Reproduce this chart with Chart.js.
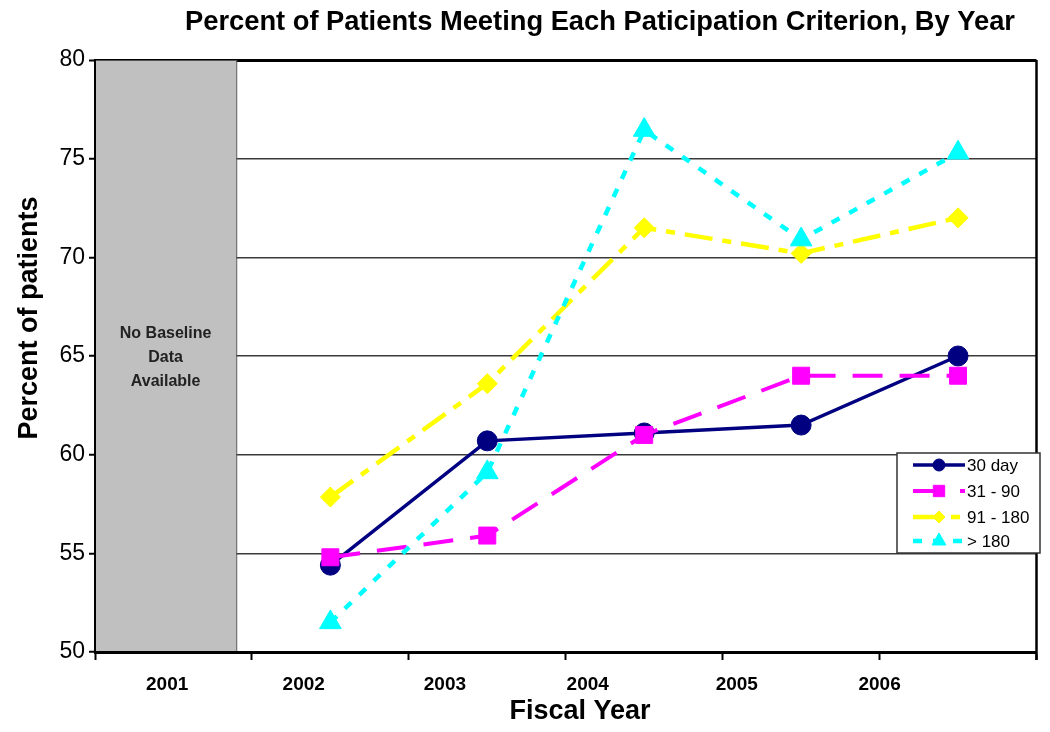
<!DOCTYPE html>
<html>
<head>
<meta charset="utf-8">
<script src="https://cdn.jsdelivr.net/npm/chart.js@4/dist/chart.umd.min.js"></script>
<style>
  html, body { margin: 0; padding: 0; background: #fff; }
  #wrap { width: 1050px; height: 732px; }
</style>
</head>
<body>
<div id="wrap"><canvas id="chart" width="1050" height="732"></canvas></div>
<script>
// Data
const years = ['2001', '2002', '2003', '2004', '2005', '2006'];
const dataYears = ['2002', '2003', '2004', '2005', '2006'];
const day30 = [54.4, 60.7, 61.1, 61.5, 65.0];
const day31to90 = [54.8, 55.9, 61.0, 64.0, 64.0];
const day91to180 = [57.85, 63.6, 71.5, 70.2, 72.0];
const over180 = [51.5, 59.1, 76.45, 70.9, 75.3];
const seriesNames = ['30 day', '31 - 90', '91 - 180', '> 180'];
const yTicks = [50, 55, 60, 65, 70, 75, 80];
// where each year label sits along the axis (category units, the source drifts them left)
const yearLabelPos = [0.46, 1.33, 2.23, 3.14, 4.09, 5.0];

const FONT = "'Liberation Sans', Arial, sans-serif";

const toPoints = vals => vals.map((v, i) => ({ x: years.indexOf(dataYears[i]) + 0.5, y: v }));

const datasets = [
  { label: seriesNames[0], data: toPoints(day30), borderColor: '#000080', backgroundColor: '#000080',
    borderWidth: 3.5, borderDash: [], pointStyle: 'circle', pointRadius: 10, order: 4, legendRadius: 6 },
  { label: seriesNames[1], data: toPoints(day31to90), borderColor: '#ff00ff', backgroundColor: '#ff00ff',
    borderWidth: 4, borderDash: [30, 17], pointStyle: 'rect', pointRadius: 12, order: 3, legendRadius: 8 },
  { label: seriesNames[2], data: toPoints(day91to180), borderColor: '#ffff00', backgroundColor: '#ffff00',
    borderWidth: 4.5, borderDash: [28, 10, 9, 10], pointStyle: 'rectRot', pointRadius: 10, order: 2, legendRadius: 6 },
  { label: seriesNames[3], data: toPoints(over180), borderColor: '#00ffff', backgroundColor: '#00ffff',
    borderWidth: 4.5, borderDash: [9, 11], pointStyle: 'triangle', pointRadius: 12.5, order: 1, legendRadius: 8 }
];
datasets.forEach(d => {
  d.pointBorderWidth = 1;
  d.pointHoverRadius = d.pointRadius;
  d.tension = 0;
  d.fill = false;
});

const isInt = v => Math.abs(v - Math.round(v)) < 1e-6;

// gray "no baseline" panel, title, axis titles, frame and legend
const decor = {
  id: 'decor',
  beforeDatasetsDraw(chart) {
    const { ctx, chartArea: a, scales: { x } } = chart;
    const x0 = x.getPixelForValue(0), x1 = x.getPixelForValue(0.9);
    ctx.save();
    ctx.fillStyle = '#c0c0c0';
    ctx.fillRect(x0, a.top, x1 - x0, a.bottom - a.top);
    ctx.strokeStyle = '#555';
    ctx.lineWidth = 1;
    ctx.strokeRect(x0 + 0.5, a.top + 0.5, x1 - x0, a.bottom - a.top);
    ctx.fillStyle = '#222';
    ctx.font = 'bold 16px ' + FONT;
    ctx.textAlign = 'center';
    ctx.textBaseline = 'middle';
    const cx = (x0 + x1) / 2;
    ['No Baseline', 'Data', 'Available'].forEach((t, i) => ctx.fillText(t, cx, 334 + i * 24));
    ctx.restore();
  },
  afterDraw(chart) {
    const { ctx, chartArea: a } = chart;
    ctx.save();
    // right frame line
    ctx.strokeStyle = '#000';
    ctx.lineWidth = 2.5;
    ctx.beginPath();
    ctx.moveTo(a.right, a.top);
    ctx.lineTo(a.right, a.bottom + 8);
    ctx.stroke();

    // title (condensed bold in the source, squeeze to fit)
    ctx.fillStyle = '#000';
    ctx.font = "bold 27px 'Liberation Sans Narrow', 'Arial Narrow', " + FONT;
    ctx.textAlign = 'center';
    ctx.textBaseline = 'middle';
    const title = 'Percent of Patients Meeting Each Paticipation Criterion, By Year';
    const w = ctx.measureText(title).width;
    ctx.save();
    ctx.translate(600, 23);
    ctx.scale(830 / w, 1);
    ctx.fillText(title, 0, 0);
    ctx.restore();

    // axis titles
    ctx.font = 'bold 27px ' + FONT;
    ctx.fillText('Fiscal Year', 580, 712);
    ctx.save();
    ctx.translate(30, 318);
    ctx.rotate(-Math.PI / 2);
    ctx.fillText('Percent of patients', 0, 0);
    ctx.restore();

    // legend
    const lx = 897, ly = 453, lw = 143, lh = 100;
    ctx.fillStyle = '#fff';
    ctx.fillRect(lx, ly, lw, lh);
    ctx.strokeStyle = '#333';
    ctx.lineWidth = 1.5;
    ctx.strokeRect(lx, ly, lw, lh);
    const rows = [465, 491, 517, 541];
    chart.data.datasets.forEach((d, i) => {
      const y = rows[i];
      ctx.save();
      ctx.strokeStyle = d.borderColor;
      ctx.lineWidth = d.borderWidth;
      ctx.setLineDash(d.borderDash);
      ctx.beginPath();
      ctx.moveTo(913, y);
      ctx.lineTo(965, y);
      ctx.stroke();
      ctx.setLineDash([]);
      ctx.fillStyle = d.backgroundColor;
      ctx.lineWidth = 1;
      Chart.helpers.drawPoint(ctx, { pointStyle: d.pointStyle, radius: d.legendRadius, borderWidth: 1, rotation: 0 }, 939, y);
      ctx.restore();
      ctx.fillStyle = '#000';
      ctx.font = '17px ' + FONT;
      ctx.textAlign = 'left';
      ctx.fillText(d.label, 967, y + 1);
    });
    ctx.restore();
  }
};

new Chart(document.getElementById('chart'), {
  type: 'line',
  data: { datasets },
  options: {
    responsive: false,
    animation: false,
    events: [],
    layout: { padding: { top: 60, right: 13, left: 0, bottom: 0 } },
    plugins: { legend: { display: false }, tooltip: { enabled: false }, title: { display: false } },
    scales: {
      x: {
        type: 'linear',
        min: 0,
        max: years.length,
        afterBuildTicks: axis => {
          const vals = [];
          for (let i = 0; i <= years.length; i++) vals.push(i);
          yearLabelPos.forEach(p => { if (!vals.some(v => Math.abs(v - p) < 1e-6)) vals.push(p); });
          axis.ticks = vals.sort((a, b) => a - b).map(v => ({ value: v }));
        },
        afterFit: scale => { scale.height = 80; },
        ticks: {
          autoSkip: false,
          maxRotation: 0,
          padding: 13,
          color: '#000',
          font: { family: FONT, size: 19, weight: 'bold' },
          callback: v => {
            const i = yearLabelPos.findIndex(p => Math.abs(p - v) < 1e-6);
            return i >= 0 ? years[i] : '';
          }
        },
        grid: {
          drawOnChartArea: false,
          drawTicks: true,
          tickLength: 8,
          tickWidth: 2,
          tickColor: c => (c.tick && isInt(c.tick.value)) ? '#000' : 'rgba(0,0,0,0)'
        },
        border: { display: true, color: '#000', width: 3, z: 1 }
      },
      y: {
        min: 50,
        max: 80,
        afterBuildTicks: axis => { axis.ticks = yTicks.map(v => ({ value: v })); },
        afterFit: scale => { scale.width = 95; },
        ticks: {
          padding: 4,
          color: '#000',
          font: { family: FONT, size: 23 }
        },
        grid: {
          drawTicks: true,
          tickLength: 6,
          tickColor: '#000',
          tickWidth: 2,
          color: c => c.tick.value === 50 ? 'rgba(0,0,0,0)' : (c.tick.value === 80 ? '#000' : '#3a3a3a'),
          lineWidth: c => c.tick.value === 80 ? 3 : 1.5
        },
        border: { display: true, color: '#000', width: 2, z: 1 }
      }
    }
  },
  plugins: [decor]
});
</script>
</body>
</html>
